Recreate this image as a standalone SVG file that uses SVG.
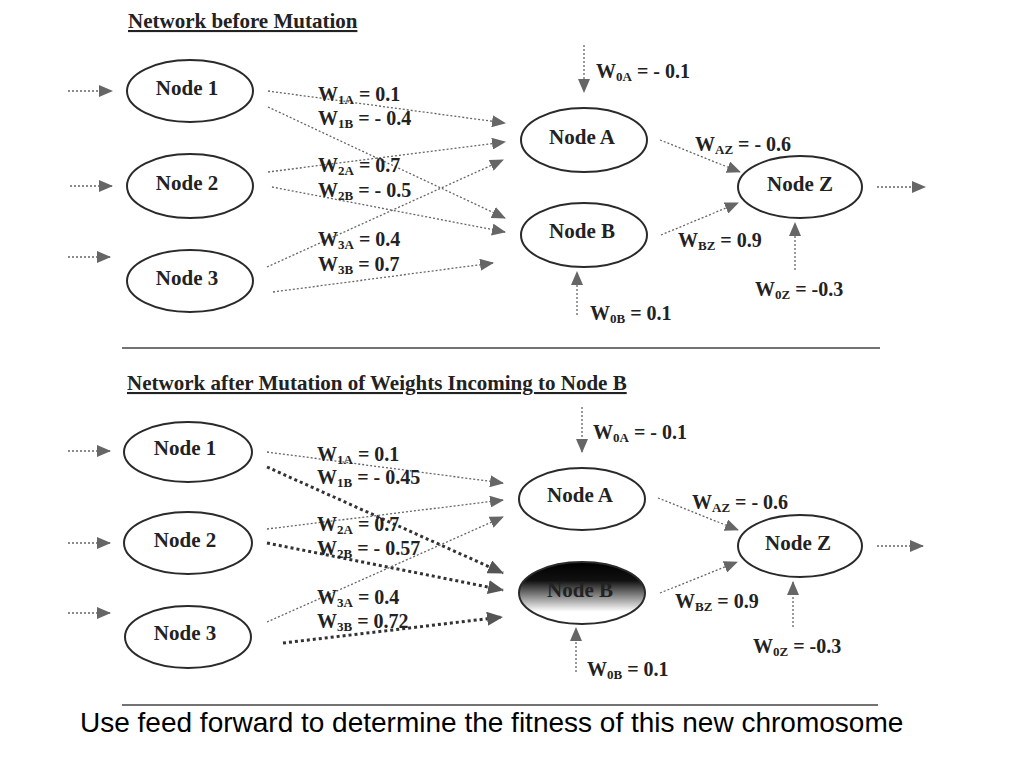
<svg xmlns="http://www.w3.org/2000/svg" width="1024" height="768" viewBox="0 0 1024 768">
<style>
.node{fill:#fff;stroke:#2a2a2a;stroke-width:2}
.nt{font-family:"Liberation Serif",serif;font-weight:bold;font-size:21px;fill:#222;text-anchor:middle}
.lb{font-family:"Liberation Serif",serif;font-weight:bold;font-size:20px;fill:#222}
.sub{font-size:13px}
.title{font-family:"Liberation Serif",serif;font-weight:bold;font-size:21px;fill:#222;text-decoration:underline}
.e{fill:none;stroke:#666;stroke-width:1.3;stroke-dasharray:2 2;marker-end:url(#ah)}
.et{fill:none;stroke:#333;stroke-width:3;stroke-dasharray:3 3;marker-end:url(#ah2)}
.sep{stroke:#444;stroke-width:1.5}
.cap{font-family:"Liberation Sans",Arial,sans-serif;font-size:28px;fill:#000}
</style>
<defs>
<marker id="ah" markerUnits="userSpaceOnUse" markerWidth="14" markerHeight="12" refX="13" refY="6" orient="auto"><path d="M0,0 L14,6 L0,12 Z" fill="#666"/></marker>
<marker id="ah2" markerUnits="userSpaceOnUse" markerWidth="16" markerHeight="14" refX="15" refY="7" orient="auto"><path d="M0,0 L16,7 L0,14 Z" fill="#555"/></marker>
<linearGradient id="gB" x1="0" y1="0" x2="0" y2="1">
<stop offset="0" stop-color="#000"/>
<stop offset="0.3" stop-color="#111"/>
<stop offset="0.55" stop-color="#888"/>
<stop offset="0.8" stop-color="#fff"/>
<stop offset="1" stop-color="#fff"/>
</linearGradient>
</defs>
<rect width="1024" height="768" fill="#fff"/>

<text class="title" x="128" y="28">Network before Mutation</text>
<line class="sep" x1="122" y1="348" x2="880" y2="348"/>
<text class="title" x="127" y="390">Network after Mutation of Weights Incoming to Node B</text>
<line class="sep" x1="122" y1="705" x2="878" y2="705"/>

<g id="connectors-top">
<path class="e" d="M68,91 L112,91"/>
<path class="e" d="M70,186 L112,186"/>
<path class="e" d="M68,257 L110,257"/>
<path class="e" d="M268,91 L505,123"/>
<path class="e" d="M268,107 L505,218"/>
<path class="e" d="M268,172 L505,142"/>
<path class="e" d="M272,187 L505,232"/>
<path class="e" d="M267,267 L503,160"/>
<path class="e" d="M273,292 L493,263"/>
<path class="e" d="M584,45 L584,92"/>
<path class="e" d="M577,315 L577,272"/>
<path class="e" d="M795,270 L795,223"/>
<path class="e" d="M660,140 L740,172"/>
<path class="e" d="M661,235 L738,203"/>
<path class="e" d="M877,187 L925,187"/>
</g>

<g id="connectors-bottom">
<path class="e" d="M68,451 L110,451"/>
<path class="e" d="M68,543 L110,543"/>
<path class="e" d="M68,613 L110,613"/>
<path class="e" d="M267,452 L503,483"/>
<path class="et" d="M267,467 L503,573"/>
<path class="e" d="M267,529 L503,500"/>
<path class="et" d="M267,543 L503,590"/>
<path class="e" d="M267,622 L503,517"/>
<path class="et" d="M283,643 L502,617"/>
<path class="e" d="M582,407 L582,452"/>
<path class="e" d="M576,672 L576,628"/>
<path class="e" d="M793,627 L793,582"/>
<path class="e" d="M658,498 L738,530"/>
<path class="e" d="M660,593 L737,562"/>
<path class="e" d="M877,546 L923,546"/>
</g>

<g id="node1-top"><ellipse class="node" cx="190" cy="91" rx="63" ry="31"/><text class="nt" x="187" y="95">Node 1</text></g>
<g id="node2-top"><ellipse class="node" cx="190" cy="186" rx="63" ry="32"/><text class="nt" x="187" y="190">Node 2</text></g>
<g id="node3-top"><ellipse class="node" cx="190" cy="281" rx="63" ry="31"/><text class="nt" x="187" y="285">Node 3</text></g>
<g id="nodeA-top"><ellipse class="node" cx="584" cy="140" rx="63" ry="32"/><text class="nt" x="582" y="144">Node A</text></g>
<g id="nodeB-top"><ellipse class="node" cx="584" cy="235" rx="63" ry="32"/><text class="nt" x="582" y="238">Node B</text></g>
<g id="nodeZ-top"><ellipse class="node" cx="800" cy="187" rx="62" ry="31"/><text class="nt" x="800" y="191">Node Z</text></g>

<g id="node1-bottom"><ellipse class="node" cx="188" cy="452" rx="64" ry="30"/><text class="nt" x="185" y="455">Node 1</text></g>
<g id="node2-bottom"><ellipse class="node" cx="188" cy="543" rx="64" ry="31"/><text class="nt" x="185" y="547">Node 2</text></g>
<g id="node3-bottom"><ellipse class="node" cx="188" cy="637" rx="63" ry="31"/><text class="nt" x="185" y="640">Node 3</text></g>
<g id="nodeA-bottom"><ellipse class="node" cx="582" cy="499" rx="63" ry="31"/><text class="nt" x="580" y="502">Node A</text></g>
<g id="nodeB-bottom"><ellipse class="node" cx="582" cy="593" rx="63" ry="31" style="fill:url(#gB)"/><text class="nt" x="580" y="597">Node B</text></g>
<g id="nodeZ-bottom"><ellipse class="node" cx="800" cy="546" rx="62" ry="31"/><text class="nt" x="798" y="550">Node Z</text></g>

<g id="labels-top">
<text class="lb" x="318" y="101">W<tspan class="sub" dy="3">1A</tspan><tspan dy="-3"> = 0.1</tspan></text>
<text class="lb" x="318" y="125">W<tspan class="sub" dy="3">1B</tspan><tspan dy="-3"> = - 0.4</tspan></text>
<text class="lb" x="318" y="172">W<tspan class="sub" dy="3">2A</tspan><tspan dy="-3"> = 0.7</tspan></text>
<text class="lb" x="318" y="197">W<tspan class="sub" dy="3">2B</tspan><tspan dy="-3"> = - 0.5</tspan></text>
<text class="lb" x="318" y="246">W<tspan class="sub" dy="3">3A</tspan><tspan dy="-3"> = 0.4</tspan></text>
<text class="lb" x="318" y="271">W<tspan class="sub" dy="3">3B</tspan><tspan dy="-3"> = 0.7</tspan></text>
<text class="lb" x="596" y="78">W<tspan class="sub" dy="3">0A</tspan><tspan dy="-3"> = - 0.1</tspan></text>
<text class="lb" x="590" y="320">W<tspan class="sub" dy="3">0B</tspan><tspan dy="-3"> = 0.1</tspan></text>
<text class="lb" x="695" y="151">W<tspan class="sub" dy="3">AZ</tspan><tspan dy="-3"> = - 0.6</tspan></text>
<text class="lb" x="678" y="247">W<tspan class="sub" dy="3">BZ</tspan><tspan dy="-3"> = 0.9</tspan></text>
<text class="lb" x="755" y="296">W<tspan class="sub" dy="3">0Z</tspan><tspan dy="-3"> = -0.3</tspan></text>
</g>

<g id="labels-bottom">
<text class="lb" x="317" y="461">W<tspan class="sub" dy="3">1A</tspan><tspan dy="-3"> = 0.1</tspan></text>
<text class="lb" x="317" y="484">W<tspan class="sub" dy="3">1B</tspan><tspan dy="-3"> = - 0.45</tspan></text>
<text class="lb" x="317" y="531">W<tspan class="sub" dy="3">2A</tspan><tspan dy="-3"> = 0.7</tspan></text>
<text class="lb" x="317" y="555">W<tspan class="sub" dy="3">2B</tspan><tspan dy="-3"> = - 0.57</tspan></text>
<text class="lb" x="317" y="604">W<tspan class="sub" dy="3">3A</tspan><tspan dy="-3"> = 0.4</tspan></text>
<text class="lb" x="317" y="628">W<tspan class="sub" dy="3">3B</tspan><tspan dy="-3"> = 0.72</tspan></text>
<text class="lb" x="593" y="439">W<tspan class="sub" dy="3">0A</tspan><tspan dy="-3"> = - 0.1</tspan></text>
<text class="lb" x="587" y="676">W<tspan class="sub" dy="3">0B</tspan><tspan dy="-3"> = 0.1</tspan></text>
<text class="lb" x="692" y="509">W<tspan class="sub" dy="3">AZ</tspan><tspan dy="-3"> = - 0.6</tspan></text>
<text class="lb" x="675" y="608">W<tspan class="sub" dy="3">BZ</tspan><tspan dy="-3"> = 0.9</tspan></text>
<text class="lb" x="753" y="653">W<tspan class="sub" dy="3">0Z</tspan><tspan dy="-3"> = -0.3</tspan></text>
</g>

<text class="cap" x="80" y="732">Use feed forward to determine the fitness of this new chromosome</text>
</svg>
